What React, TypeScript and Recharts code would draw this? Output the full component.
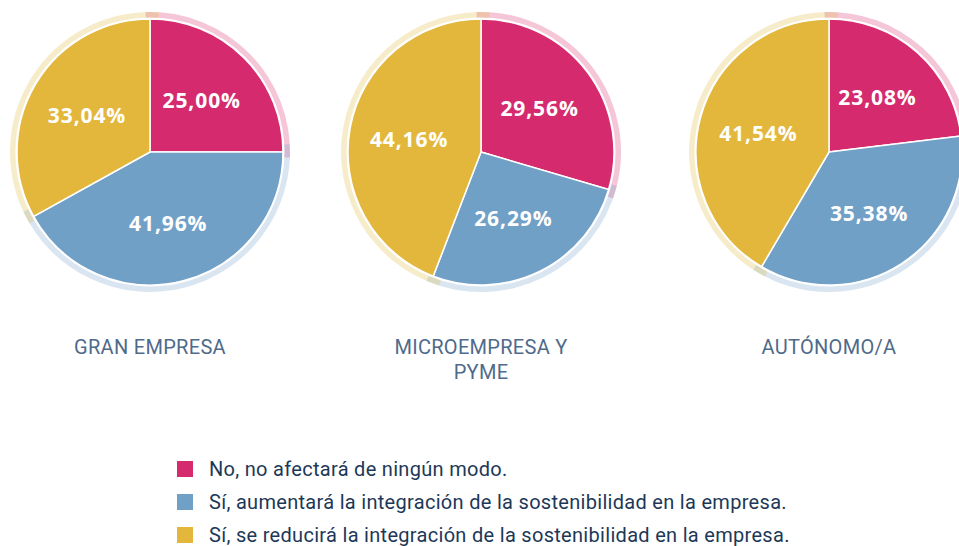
import React from 'react';
import { PieChart, Pie, Cell } from 'recharts';

const segments = ['GRAN EMPRESA', 'MICROEMPRESA Y PYME', 'AUTÓNOMO/A'];
const answers = [
  'No, no afectará de ningún modo.',
  'Sí, aumentará la integración de la sostenibilidad en la empresa.',
  'Sí, se reducirá la integración de la sostenibilidad en la empresa.',
];
const granEmpresa = [25.0, 41.96, 33.04];
const microPyme = [29.56, 26.29, 44.16];
const autonomo = [23.08, 35.38, 41.54];

const COLORS = ['#d52b6e', '#71a0c7', '#e2b73b'];
const CENTERS_X = [150, 481, 829];
const CY = 152;
const R = 133;
const OVERLAP = 5.5;
const RADIAN = Math.PI / 180;

const fmt = (v: number) => v.toFixed(2).replace('.', ',') + '%';

const renderLabel = (props: any) => {
  const { cx, cy, midAngle, outerRadius, value } = props;
  const r = outerRadius * 0.55;
  const x = cx + r * Math.cos(-midAngle * RADIAN);
  const y = cy + r * Math.sin(-midAngle * RADIAN);
  return (
    <text
      x={x}
      y={y}
      fill="#fff"
      textAnchor="middle"
      dominantBaseline="central"
      fontFamily="'Open Sans', sans-serif"
      fontWeight={700}
      fontSize={21}
      letterSpacing={0.9}
    >
      {fmt(value)}
    </text>
  );
};

export default function App() {
  const series = [granEmpresa, microPyme, autonomo];
  return (
    <div
      style={{
        position: 'absolute',
        left: 0,
        top: 0,
        width: 959,
        height: 546,
        overflow: 'hidden',
        background: '#fff',
        fontFamily: 'Roboto, sans-serif',
      }}
    >
      <PieChart width={959} height={300} margin={{ top: 0, right: 0, bottom: 0, left: 0 }}>
        {series.map((vals, s) => {
          const data = vals.map((value, i) => ({ name: answers[i], value }));
          return [
            <Pie
              key={`ring-${s}`}
              data={data}
              dataKey="value"
              cx={CENTERS_X[s]}
              cy={CY}
              innerRadius={R + 1.5}
              outerRadius={R + 7}
              startAngle={90 + OVERLAP / 3}
              endAngle={90 + OVERLAP / 3 - 360}
              paddingAngle={-OVERLAP}
              stroke="none"
              isAnimationActive={false}
            >
              {data.map((_, i) => (
                <Cell key={i} fill={COLORS[i]} fillOpacity={0.27} />
              ))}
            </Pie>,
            <Pie
              key={`pie-${s}`}
              data={data}
              dataKey="value"
              cx={CENTERS_X[s]}
              cy={CY}
              outerRadius={R}
              startAngle={90}
              endAngle={-270}
              stroke="#fff"
              strokeWidth={1.5}
              label={renderLabel}
              labelLine={false}
              isAnimationActive={false}
            >
              {data.map((_, i) => (
                <Cell key={i} fill={COLORS[i]} />
              ))}
            </Pie>,
          ];
        })}
      </PieChart>

      {segments.map((name, s) => (
        <div
          key={name}
          style={{
            position: 'absolute',
            left: CENTERS_X[s] - 100,
            top: 335,
            width: 200,
            textAlign: 'center',
            color: '#4f6a8b',
            fontSize: 20,
            letterSpacing: 0.3,
            lineHeight: '25px',
          }}
        >
          {name}
        </div>
      ))}

      <div style={{ position: 'absolute', left: 177, top: 453 }}>
        {answers.map((a, i) => (
          <div
            key={a}
            style={{
              display: 'flex',
              alignItems: 'center',
              height: 32.7,
              color: '#1d3857',
              fontSize: 20,
              letterSpacing: 0.3,
              whiteSpace: 'nowrap',
            }}
          >
            <span style={{ width: 16, height: 16, background: COLORS[i], marginRight: 16, flexShrink: 0 }} />
            <span>{a}</span>
          </div>
        ))}
      </div>
    </div>
  );
}
